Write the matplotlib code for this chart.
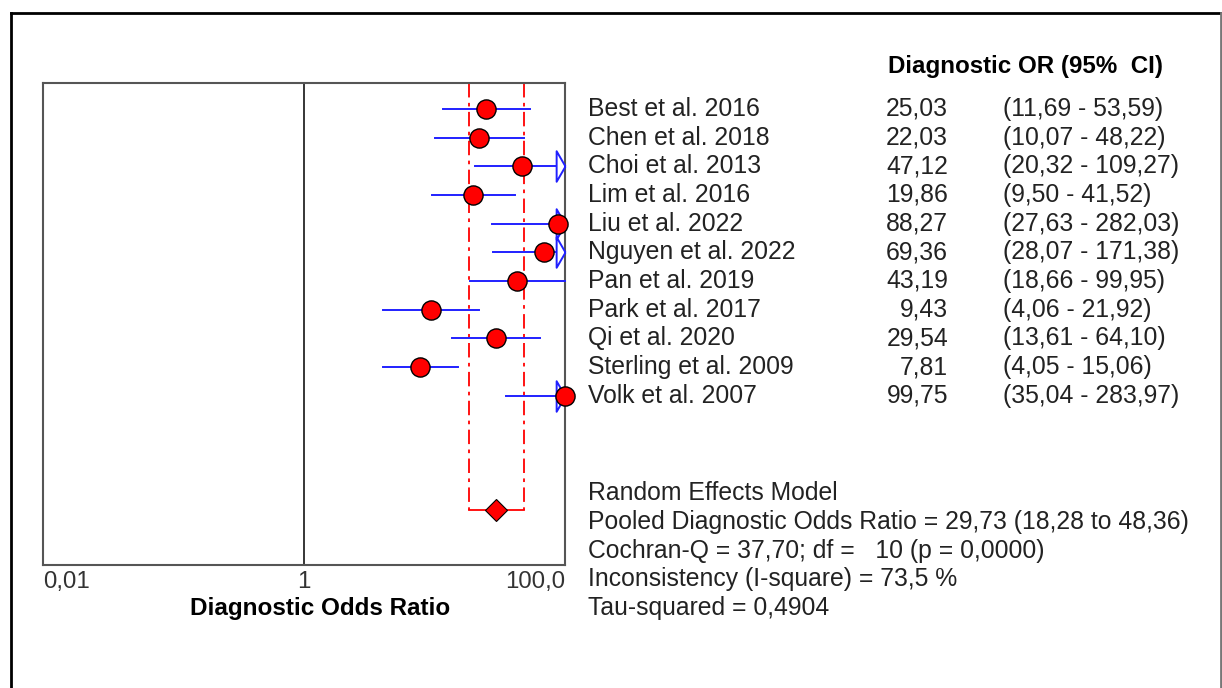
import numpy as np
import matplotlib
matplotlib.use('Agg')
import matplotlib.pyplot as plt
from matplotlib.lines import Line2D

plt.rcParams['font.family'] = ['Liberation Sans', 'DejaVu Sans']

# --- data ---
studies = ['Best et al. 2016', 'Chen et al. 2018', 'Choi et al. 2013', 'Lim et al. 2016',
           'Liu et al. 2022', 'Nguyen et al. 2022', 'Pan et al. 2019', 'Park et al. 2017',
           'Qi et al. 2020', 'Sterling et al. 2009', 'Volk et al. 2007']
dor = [25.03, 22.03, 47.12, 19.86, 88.27, 69.36, 43.19, 9.43, 29.54, 7.81, 99.75]
ci_lo = [11.69, 10.07, 20.32, 9.50, 27.63, 28.07, 18.66, 4.06, 13.61, 4.05, 35.04]
ci_hi = [53.59, 48.22, 109.27, 41.52, 282.03, 171.38, 99.95, 21.92, 64.10, 15.06, 283.97]
dor_txt = ['25,03', '22,03', '47,12', '19,86', '88,27', '69,36', '43,19', '9,43', '29,54', '7,81', '99,75']
ci_txt = ['(11,69 - 53,59)', '(10,07 - 48,22)', '(20,32 - 109,27)', '(9,50 - 41,52)',
          '(27,63 - 282,03)', '(28,07 - 171,38)', '(18,66 - 99,95)', '(4,06 - 21,92)',
          '(13,61 - 64,10)', '(4,05 - 15,06)', '(35,04 - 283,97)']
pooled = 29.73
pooled_lo = 18.28
pooled_hi = 48.36
summary_lines = ['Random Effects Model',
                 'Pooled Diagnostic Odds Ratio = 29,73 (18,28 to 48,36)',
                 'Cochran-Q = 37,70; df =   10 (p = 0,0000)',
                 'Inconsistency (I-square) = 73,5 %',
                 'Tau-squared = 0,4904']
xticks = [0.01, 1, 100]
xtick_labels = ['0,01', '1', '100,0']

W, H = 1222, 688
fig = plt.figure(figsize=(W / 100, H / 100), dpi=100)
ax = fig.add_axes([43 / W, 1 - 565 / H, 522 / W, 482 / H])

fs = 17.8
txtc = '#222222'
xmin, xmax = 0.01, 100
ax.set_xscale('log')
ax.set_xlim(xmin, xmax)
ax.set_ylim(16.9, 0.1)
rows = np.arange(1, len(studies) + 1)

# no-effect line
ax.axvline(1, color='k', lw=1.1, zorder=1)

# pooled CI bracket
pool_y = 15
dash = (0, (8, 3, 2, 3))
ax.plot([pooled_lo, pooled_lo], [0.1, pool_y], color='red', lw=1.3, ls=dash, zorder=2)
ax.plot([pooled_hi, pooled_hi], [0.1, pool_y], color='red', lw=1.3, ls=dash, zorder=2)
ax.plot([pooled_lo, pooled_hi], [pool_y, pool_y], color='red', lw=1.3, zorder=2)
ax.plot([pooled], [pool_y], marker='D', ms=11, mfc='red', mec='k', mew=0.8, zorder=5)

# study CIs
arrow = [(0, 0), (-0.58, -1), (-0.58, 1), (0, 0)]
blue = '#2020ff'
for y, m, lo, hi in zip(rows, dor, ci_lo, ci_hi):
    ax.plot([lo, min(hi, xmax)], [y, y], color=blue, lw=1.4, zorder=3, clip_on=False)
    if hi > xmax:
        ax.plot([xmax], [y], marker=arrow, ms=22, mfc='white', mec=blue,
                mew=1.4, zorder=3, clip_on=False)
    ax.plot([m], [y], marker='o', ms=13.8, mfc='red', mec='k', mew=1.0, zorder=4,
            clip_on=False)

# axes look
for s in ax.spines.values():
    s.set_color('#555555')
    s.set_linewidth(1.5)
ax.set_yticks([])
ax.set_xticks(xticks)
ax.set_xticklabels(xtick_labels, fontsize=fs - 0.5, color='#333333')
ax.minorticks_off()
ax.tick_params(axis='x', length=0, pad=4)
labs = ax.get_xticklabels()
labs[0].set_ha('left')
labs[2].set_ha('right')
fig.text(320 / W, 1 - 609 / H, 'Diagnostic Odds Ratio', ha='center', va='center',
         fontsize=17.5, fontweight='bold', color='k')

# study table on the right
tr = ax.get_yaxis_transform()
ax.text((888 - 43) / 522, -0.46, 'Diagnostic OR (95%  CI)', transform=tr, ha='left',
        va='center', fontsize=17.4, fontweight='bold', color='k', clip_on=False)
for y, name, d, c in zip(rows, studies, dor_txt, ci_txt):
    ax.text((588 - 43) / 522, y, name, transform=tr, ha='left', va='center',
            fontsize=fs, color=txtc, clip_on=False)
    ax.text((948 - 43) / 522, y, d, transform=tr, ha='right', va='center',
            fontsize=fs, color=txtc, clip_on=False)
    ax.text((1003 - 43) / 522, y, c, transform=tr, ha='left', va='center',
            fontsize=fs, color=txtc, clip_on=False)

for i, line in enumerate(summary_lines):
    ax.text((588 - 43) / 522, 14.4 + i, line, transform=tr, ha='left', va='center',
            fontsize=fs, color=txtc, clip_on=False)

# outer frame
fig.add_artist(Line2D([11 / W, 11 / W], [-0.01, 1 - 13 / H], color='k', lw=2))
fig.add_artist(Line2D([11 / W, 1221 / W], [1 - 13 / H, 1 - 13 / H], color='k', lw=2))
fig.add_artist(Line2D([1220.5 / W, 1220.5 / W], [-0.01, 1 - 13 / H], color='#777777', lw=2))

fig.savefig('out.png', dpi=100)
